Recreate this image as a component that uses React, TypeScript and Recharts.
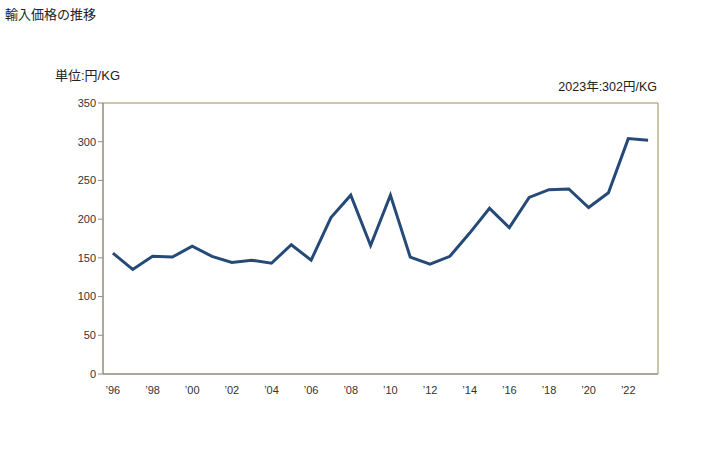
import { LineChart, Line, XAxis, YAxis, ReferenceArea } from "recharts";

const years = [
  1996, 1997, 1998, 1999, 2000, 2001, 2002, 2003, 2004, 2005,
  2006, 2007, 2008, 2009, 2010, 2011, 2012, 2013, 2014, 2015,
  2016, 2017, 2018, 2019, 2020, 2021, 2022, 2023,
];
const prices = [
  156, 135, 152, 151, 165, 152, 144, 147, 143, 167,
  147, 202, 231, 166, 231, 151, 142, 152, 182, 214,
  189, 228, 238, 239, 215, 234, 304, 302,
];
const xTicks = [1996, 1998, 2000, 2002, 2004, 2006, 2008, 2010, 2012, 2014, 2016, 2018, 2020, 2022];
const yTicks = [0, 50, 100, 150, 200, 250, 300, 350];

const data = years.map((y, i) => ({ year: y, price: prices[i] }));

const FONT = '"Liberation Sans", "Noto Sans CJK JP", sans-serif';
const AXIS_GRAY = "#8c8c8c";
const BORDER = "#9b8f4e";
const LINE = "#254a77";

const shortYear = (y: number) => "\u2019" + String(y).slice(2);

export default function App() {
  return (
    <div style={{ position: "absolute", left: 0, top: 0, width: 728, height: 450, background: "#fff", fontFamily: FONT }}>
      <div style={{ position: "absolute", left: 5, top: 4, fontSize: 13, color: "#222" }}>輸入価格の推移</div>
      <div style={{ position: "absolute", left: 55, top: 65, fontSize: 13, color: "#222" }}>単位:円/KG</div>
      <div style={{ position: "absolute", right: 728 - 657, top: 76, fontSize: 12.5, color: "#222" }}>2023年:302円/KG</div>
      <LineChart
        width={728}
        height={450}
        data={data}
        margin={{ top: 103, right: 70, bottom: 46, left: 0 }}
      >
        <ReferenceArea x1={1995.5} x2={2023.5} y1={0} y2={350} fill="none" stroke={BORDER} strokeWidth={1} />
        <XAxis
          dataKey="year"
          type="number"
          domain={[1995.5, 2023.5]}
          ticks={xTicks}
          tickFormatter={shortYear}
          tickLine={false}
          tickSize={0}
          tickMargin={12}
          height={30}
          axisLine={{ stroke: AXIS_GRAY }}
          tick={{ fill: "#333", fontSize: 11, fontFamily: FONT }}
        />
        <YAxis
          domain={[0, 350]}
          ticks={yTicks}
          width={103}
          tickSize={5}
          tickLine={{ stroke: AXIS_GRAY }}
          axisLine={{ stroke: AXIS_GRAY }}
          tick={{ fill: "#333", fontSize: 11, fontFamily: FONT }}
        />
        <Line
          dataKey="price"
          stroke={LINE}
          strokeWidth={3}
          dot={false}
          isAnimationActive={false}
        />
      </LineChart>
    </div>
  );
}
